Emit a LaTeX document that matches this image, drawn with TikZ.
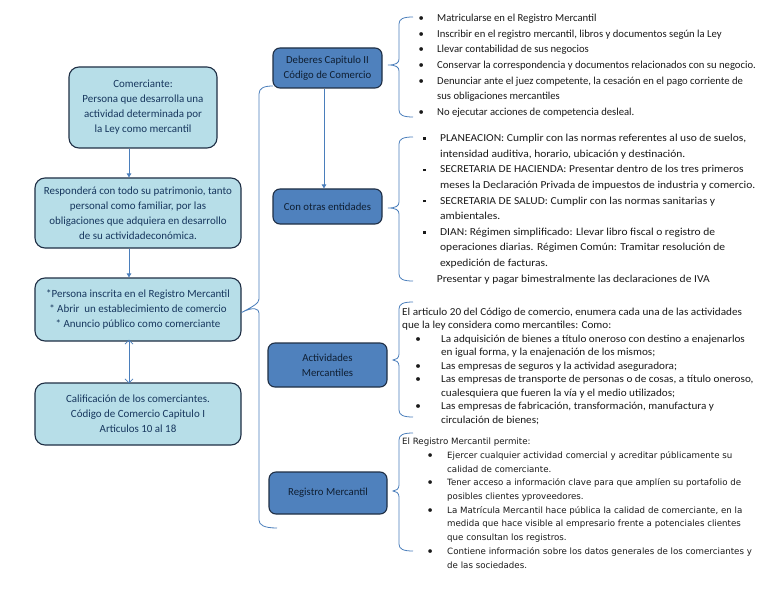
\documentclass[tikz,border=0pt]{standalone}
\usepackage{fontspec}
\setmainfont{Carlito}
\newfontfamily\tahomalike{DejaVu Sans}
\usetikzlibrary{arrows.meta,calc}
\definecolor{lblue}{HTML}{B7DEE8}
\definecolor{mblue}{HTML}{4F81BD}
\definecolor{bord}{HTML}{1F2F45}
\definecolor{ltext}{HTML}{17375E}
\definecolor{mtext}{HTML}{0F1F33}
\definecolor{conn}{HTML}{4A7EBB}
\definecolor{rtext}{HTML}{1A1A1A}
\newcommand\bitem[2]{\makebox[#1][l]{\hspace{#2}\makebox[0pt]{\textbullet}}}
\newcommand\citem[2]{\makebox[#1][l]{\hspace{#2}\makebox[0pt]{\rmfamily\fontsize{10.5}{10}\selectfont\textbullet}}}
\newcommand\sitem[2]{\makebox[#1][l]{\hspace{#2}\makebox[0pt]{\raisebox{1.6pt}{\rule{2.6pt}{2.6pt}}}}}
\newcommand\rbr[4]{%
  \draw[conline] (413,#1) .. controls (403,#1) and (399,#1+2) .. (399,#1+7)
    -- (399,#2-6) .. controls (399,#2-2) and (396,#2) .. (#4,#2)
    .. controls (396,#2) and (399,#2+2) .. (399,#2+6)
    -- (399,#3-7) .. controls (399,#3-2) and (403,#3) .. (413,#3);}
\begin{document}
\begin{tikzpicture}[x=1bp,y=-1bp,
  lbox/.style={draw=bord, line width=1.1pt, fill=lblue, rounded corners=10bp, text=ltext, align=center, font=\fontsize{11}{15}\selectfont, inner sep=0pt},
  mbox/.style={draw=bord, line width=1.1pt, fill=mblue, rounded corners=7bp, text=mtext, align=center, font=\fontsize{10.8}{15}\selectfont, inner sep=0pt},
  conline/.style={draw=conn, line width=0.8pt},
  txt/.style={inner sep=0pt, text=rtext, anchor=base west, font=\fontsize{10.7}{15.7}\selectfont},
  tip/.style={-{Triangle[length=4bp,width=4.5bp]}},
  dtip/.style={{Straight Barb[length=4bp,width=8bp]}-{Straight Barb[length=4bp,width=8bp]}},
]
\useasboundingbox[fill=white] (0,0) rectangle (768,594);

% left column
\node[lbox, minimum width=148bp, minimum height=81bp] (c1) at (143,107.5) {Comerciante:\\Persona que desarrolla una\\actividad determinada por\\la Ley como mercantil};
\node[lbox, minimum width=206bp, minimum height=70bp] (c2) at (138,213) {Responderá con todo su patrimonio, tanto\\personal como familiar, por las\\obligaciones que adquiera en desarrollo\\de su actividadeconómica.};
\node[lbox, minimum width=206bp, minimum height=63bp] (c3) at (138,309.5) {*Persona inscrita en el Registro Mercantil\\* Abrir\ \ un establecimiento de comercio\\* Anuncio público como comerciante};
\node[lbox, minimum width=206bp, minimum height=62bp] (c4) at (138,414) {Calificación de los comerciantes.\\Código de Comercio Capitulo I\\Articulos 10 al 18};

\coordinate (ax) at (129,0);
\draw[conline, tip] (c1.south -| ax) -- (c2.north -| ax);
\draw[conline, tip] (c2.south -| ax) -- (c3.north -| ax);
\draw[conline, dtip] ([yshift=2bp]c3.south -| ax) -- ([yshift=-1bp]c4.north -| ax);

% middle column
\node[mbox, minimum width=109bp, minimum height=40bp] (d1) at (327.5,68) {Deberes Capitulo II\\Código de Comercio};
\node[mbox, minimum width=109bp, minimum height=35bp] (d2) at (327.5,206.5) {Con otras entidades};
\node[mbox, minimum width=119bp, minimum height=44bp] (d3) at (327.5,365) {Actividades\\Mercantiles};
\node[mbox, minimum width=118bp, minimum height=42bp] (d4) at (328,493) {Registro Mercantil};

\coordinate (mx) at (324,0);
\draw[conline, tip] (d1.south -| mx) -- (d2.north -| mx);

% big bracket
\coordinate (bt) at (273,86);
\coordinate (bb) at (277,528);
\draw[conline] (bt) .. controls (264,86) and (259,88) .. (259,94)
  -- (259,299) .. controls (259,303) and (254,306) .. ([yshift=-3bp]c3.east)
  .. controls (254,306) and (259,309) .. (259,313)
  -- (259,520) .. controls (259,525) and (264,528) .. (bb);

% right braces
\rbr{17}{65}{117}{388}
\rbr{137}{208}{281}{388}
\rbr{302}{360}{417}{393}
\rbr{433}{491}{551}{393}

% text blocks
\node[txt] (t1) at (400,21.5) {\begin{tabular}[t]{@{}l@{}l@{}}
\bitem{37bp}{21bp} & Matricularse en el Registro Mercantil\\
\bitem{37bp}{21bp} & Inscribir en el registro mercantil, libros y documentos según la Ley\\
\bitem{37bp}{21bp} & Llevar contabilidad de sus negocios\\
\bitem{37bp}{21bp} & Conservar la correspondencia y documentos relacionados con su negocio.\\
\bitem{37bp}{21bp} & Denunciar ante el juez competente, la cesación en el pago corriente de\\
 & sus obligaciones mercantiles\\
\bitem{37bp}{21bp} & No ejecutar acciones de competencia desleal.
\end{tabular}};

\node[txt] (t2) at (400,141.5) {\scalebox{1.08}[1]{\begin{tabular}[t]{@{}l@{}l@{}}
\sitem{37bp}{22.2bp} & PLANEACION: Cumplir con las normas referentes al uso de suelos,\\
 & intensidad auditiva, horario, ubicación y destinación.\\
\sitem{37bp}{22.2bp} & SECRETARIA DE HACIENDA: Presentar dentro de los tres primeros\\
 & meses la Declaración Privada de impuestos de industria y comercio.\\
\sitem{37bp}{22.2bp} & SECRETARIA DE SALUD: Cumplir con las normas sanitarias y\\
 & ambientales.\\
\sitem{37bp}{22.2bp} & DIAN: Régimen simplificado: Llevar libro fiscal o registro de\\
 & operaciones diarias. Régimen Común: Tramitar resolución de\\
 & expedición de facturas.\\
 & \hspace{-3bp}Presentar y pagar bimestralmente las declaraciones de IVA
\end{tabular}}};

\node[txt, font=\fontsize{10.7}{13.5}\selectfont] (t3) at (402,315.5) {\scalebox{1.05}[1]{\begin{tabular}[t]{@{}l@{}l@{}}
\multicolumn{2}{@{}l@{}}{El articulo 20 del Código de comercio, enumera cada una de las actividades}\\
\multicolumn{2}{@{}l@{}}{que la ley considera como mercantiles: Como:}\\
\bitem{37.1bp}{15.2bp} & La adquisición de bienes a título oneroso con destino a enajenarlos\\
 & en igual forma, y la enajenación de los mismos;\\
\bitem{37.1bp}{15.2bp} & Las empresas de seguros y la actividad aseguradora;\\
\bitem{37.1bp}{15.2bp} & Las empresas de transporte de personas o de cosas, a título oneroso,\\
 & cualesquiera que fueren la vía y el medio utilizados;\\
\bitem{37.1bp}{15.2bp} & Las empresas de fabricación, transformación, manufactura y\\
 & circulación de bienes;
\end{tabular}}};

\node[txt, font=\tahomalike\fontsize{8.7}{13.8}\selectfont] (t4) at (402,444.5) {\begin{tabular}[t]{@{}l@{}l@{}}
\multicolumn{2}{@{}l@{}}{El Registro Mercantil permite:}\\
\citem{45bp}{28bp} & Ejercer cualquier actividad comercial y acreditar públicamente su\\
 & calidad de comerciante.\\
\citem{45bp}{28bp} & Tener acceso a información clave para que amplíen su portafolio de\\
 & posibles clientes yproveedores.\\
\citem{45bp}{28bp} & La Matrícula Mercantil hace pública la calidad de comerciante, en la\\
 & medida que hace visible al empresario frente a potenciales clientes\\
 & que consultan los registros.\\
\citem{45bp}{28bp} & Contiene información sobre los datos generales de los comerciantes y\\
 & de las sociedades.
\end{tabular}};
\end{tikzpicture}
\end{document}
